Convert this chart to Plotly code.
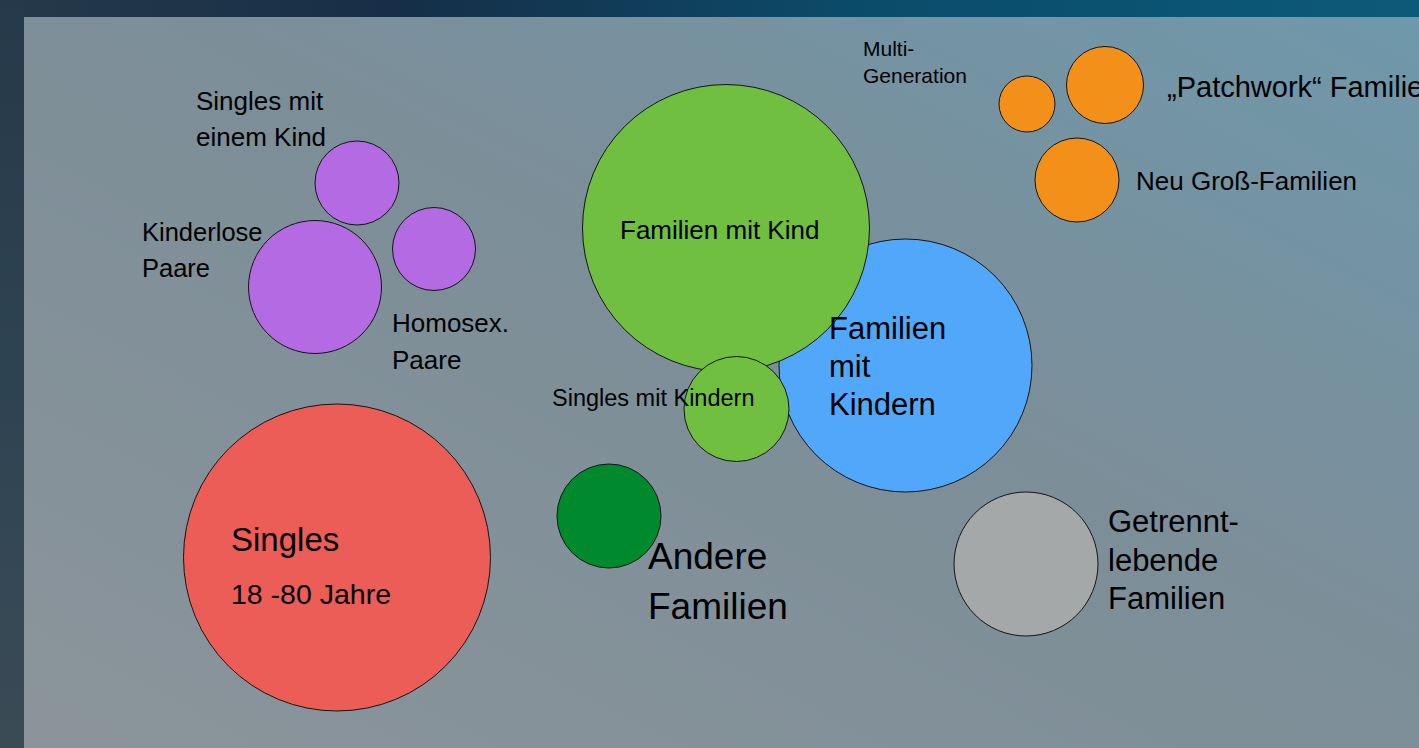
import base64
import plotly.graph_objects as go

# ---- circle data (centre / radius in slide pixel units) ----
circle_names = ["Familien mit Kindern", "Familien mit Kind", "Singles mit Kindern",
                "Singles", "Andere Familien", "Getrennt lebende Familien",
                "Singles mit einem Kind", "Kinderlose Paare", "Homosex. Paare",
                "Multi-Generation", "Patchwork Familien", "Neu Groß-Familien"]
circle_cx = [905.5, 726, 736.5, 337, 609, 1026, 357, 315, 434, 1027, 1105, 1077]
circle_cy = [365.5, 228, 409, 557.5, 516, 564, 183, 287, 249, 104, 85, 180]
circle_r = [126.5, 143.5, 52.5, 153.5, 52, 72, 42, 66.5, 41.5, 28, 38.5, 42]
circle_colors = ["#51a7f9", "#70bf41", "#70bf41", "#ec5d57", "#008a2d", "#a5a8a8",
                 "#b36ae2", "#b36ae2", "#b36ae2", "#f39019", "#f39019", "#f39019"]

# ---- labels (one entry per text line) ----
label_text = ["Singles mit", "einem Kind", "Kinderlose", "Paare", "Homosex.", "Paare",
              "Familien mit Kind", "Familien", "mit", "Kindern", "Singles mit Kindern",
              "Singles", "18 -80 Jahre", "Andere", "Familien",
              "Getrennt-", "lebende", "Familien", "Multi-", "Generation",
              "\u201ePatchwork\u201c Familien", "Neu Groß-Familien"]
label_x = [194.5, 194.5, 140.5, 140.5, 390.5, 390.5, 619, 827.5, 827.5, 827.5, 551,
           230, 230, 646.5, 646.5, 1106.5, 1106.5, 1106.5, 861.5, 861.5, 1165.5, 1134.5]
label_baseline = [109.8, 145.8, 241.2, 277.2, 332.5, 368.8, 239, 339.5, 377.5, 415.5, 406.5,
                  551.5, 604, 569.5, 619.5, 532, 571.5, 609.5, 55.5, 82.8, 97, 190.5]
label_size = [26, 26, 25.5, 25.5, 26, 26, 26, 31, 31, 31, 23.5,
              33, 28.5, 37, 37, 31, 31, 31, 21, 21, 29, 26]

W, H = 1419, 748

svg = f'''<svg xmlns="http://www.w3.org/2000/svg" width="{W}" height="{H}" viewBox="0 0 {W} {H}">
<defs>
<linearGradient id="top" x1="0" y1="0" x2="1" y2="0">
<stop offset="0" stop-color="#26394a"/><stop offset="0.28" stop-color="#162e47"/>
<stop offset="0.6" stop-color="#0b4b6a"/><stop offset="1" stop-color="#0c5a79"/>
</linearGradient>
<linearGradient id="left" x1="0" y1="0" x2="0" y2="1">
<stop offset="0" stop-color="#26394a"/><stop offset="0.5" stop-color="#2e4352"/>
<stop offset="1" stop-color="#3b4b56"/>
</linearGradient>
<linearGradient id="panel" x1="1" y1="0" x2="0" y2="1">
<stop offset="0" stop-color="#6f98ab"/><stop offset="0.45" stop-color="#7c8e98"/>
<stop offset="1" stop-color="#8b949b"/>
</linearGradient>
</defs>
<rect x="0" y="0" width="{W}" height="{H}" fill="url(#top)"/>
<rect x="0" y="0" width="24" height="{H}" fill="url(#left)"/>
<rect x="24" y="17" width="{W-24}" height="{H-17}" fill="url(#panel)"/>
</svg>'''
bg_uri = "data:image/svg+xml;base64," + base64.b64encode(svg.encode("utf-8")).decode("ascii")

fig = go.Figure()
fig.add_trace(go.Scatter(x=[0, W], y=[0, H], mode="markers",
                         marker=dict(opacity=0), hoverinfo="skip", showlegend=False))

for cx, cy, r, col in zip(circle_cx, circle_cy, circle_r, circle_colors):
    fig.add_shape(type="circle", xref="x", yref="y",
                  x0=cx - r, x1=cx + r, y0=cy - r, y1=cy + r,
                  fillcolor=col, line=dict(color="#151515", width=1), layer="above")

for t, x, b, s in zip(label_text, label_x, label_baseline, label_size):
    fig.add_annotation(x=x, y=b - 0.35 * s, xref="x", yref="y", text=t,
                       showarrow=False, xanchor="left", yanchor="middle",
                       borderpad=0,
                       font=dict(family="Liberation Sans, Arial, sans-serif",
                                 size=s, color="#000000"))

fig.update_layout(
    width=W, height=H,
    margin=dict(l=0, r=0, t=0, b=0, pad=0),
    paper_bgcolor="#7e8d96", plot_bgcolor="rgba(0,0,0,0)",
    xaxis=dict(range=[0, W], visible=False, fixedrange=True),
    yaxis=dict(range=[H, 0], visible=False, fixedrange=True),
    images=[dict(source=bg_uri, xref="paper", yref="paper", x=0, y=1,
                 sizex=1, sizey=1, xanchor="left", yanchor="top",
                 sizing="stretch", layer="below")],
    showlegend=False,
)

fig.write_html("out.html", config={"displayModeBar": False},
               post_script="document.body.style.margin='0';document.body.style.overflow='hidden';")
